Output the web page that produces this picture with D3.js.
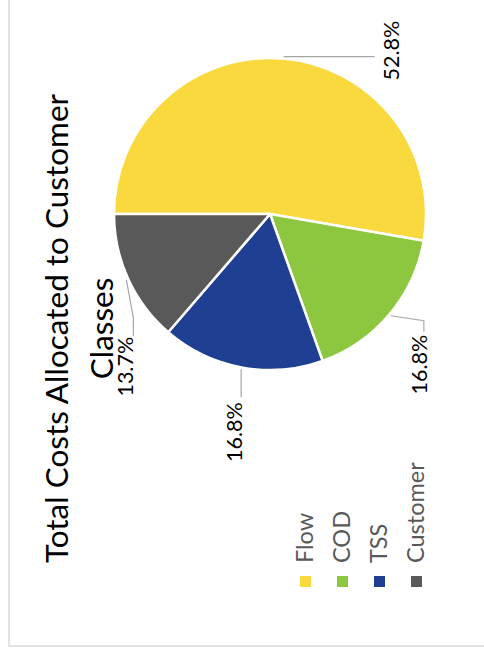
<!DOCTYPE html>
<html>
<head>
<meta charset="utf-8">
<script src="https://cdn.jsdelivr.net/npm/d3@7/dist/d3.min.js"></script>
<style>
  html, body { margin: 0; padding: 0; background: #fff; }
  svg { display: block; }
  text { font-family: Lato, "Open Sans", sans-serif; }
</style>
</head>
<body>
<script>
// Cost shares by customer class (percent)
const categories = ["Flow", "COD", "TSS", "Customer"];
const shares = [52.8, 16.8, 16.8, 13.7];
const shareLabels = ["52.8%", "16.8%", "16.8%", "13.7%"];
const colors = ["#F9D93E", "#8DC63F", "#1F3F92", "#595959"];
const titleLines = ["Total Costs Allocated to Customer", "Classes"];

// Leader-line routing for each data label (offsets from the slice edge point)
const leaderRoutes = [
  { elbow: [0, 91], tail: 0, anchor: "middle", tx: 6, ty: 24 },
  { elbow: [-5, 33], tail: -11, anchor: "end", tx: -3, ty: 3 },
  { elbow: [-28, 0], tail: 0, anchor: "end", tx: -5, ty: 1 },
  { elbow: [-38, 7], tail: -18, anchor: "end", tx: -1, ty: 0 }
];

const width = 484, height = 653;
// The chart is laid out in a landscape frame and turned a quarter turn.
const W = height, H = width;

const svg = d3.select("body").append("svg")
  .attr("width", width)
  .attr("height", height);

const g = svg.append("g")
  .attr("transform", `translate(0,${height}) rotate(-90)`);

// Chart area border
g.append("rect")
  .attr("x", 7).attr("y", 9)
  .attr("width", W + 20).attr("height", H + 20)
  .attr("fill", "none")
  .attr("stroke", "#D9D9D9")
  .attr("stroke-width", 1.5);

// Title
const title = g.append("text")
  .attr("text-anchor", "middle")
  .attr("font-size", 31.5)
  .attr("fill", "#000");
titleLines.forEach((line, i) => {
  title.append("tspan")
    .attr("x", 324.5)
    .attr("y", 68 + i * 45)
    .text(line);
});

// Pie
const cx = 439, cy = 270, radius = 156;
const pie = d3.pie().sort(null).value(d => d.value).startAngle(0).endAngle(2 * Math.PI);
const data = categories.map((c, i) => ({ name: c, value: shares[i], label: shareLabels[i], color: colors[i], route: leaderRoutes[i] }));
const arcs = pie(data);
const arc = d3.arc().innerRadius(0).outerRadius(radius);

const pieG = g.append("g").attr("transform", `translate(${cx},${cy})`);
pieG.selectAll("path.slice")
  .data(arcs)
  .join("path")
  .attr("class", "slice")
  .attr("d", arc)
  .attr("fill", d => d.data.color)
  .attr("stroke", "#fff")
  .attr("stroke-width", 2.5)
  .attr("stroke-linejoin", "round");

// Data labels with leader lines
const edgeArc = d3.arc().innerRadius(radius + 2).outerRadius(radius + 2);
arcs.forEach(d => {
  const [sx, sy] = edgeArc.centroid(d);
  const r = d.data.route;
  const ex = sx + r.elbow[0], ey = sy + r.elbow[1];
  const tx = ex + r.tail, ty = ey;
  const pts = [[sx, sy], [ex, ey]];
  if (r.tail !== 0) pts.push([tx, ty]);
  pieG.append("path")
    .attr("d", d3.line()(pts))
    .attr("fill", "none")
    .attr("stroke", "#A6A6A6")
    .attr("stroke-width", 1.2);
  pieG.append("text")
    .attr("x", tx + r.tx)
    .attr("y", ty + r.ty)
    .attr("text-anchor", r.anchor)
    .attr("font-size", 21.5)
    .attr("fill", "#000")
    .text(d.data.label);
});

// Legend
const legend = g.append("g").attr("transform", "translate(66,300)");
const item = legend.selectAll("g")
  .data(data)
  .join("g")
  .attr("transform", (d, i) => `translate(0,${i * 37})`);
item.append("rect")
  .attr("x", 0).attr("y", 0)
  .attr("width", 11).attr("height", 11)
  .attr("fill", d => d.color);
item.append("text")
  .attr("x", 24)
  .attr("y", 13)
  .attr("font-size", 23.5)
  .attr("fill", "#595959")
  .text(d => d.name);
</script>
</body>
</html>
